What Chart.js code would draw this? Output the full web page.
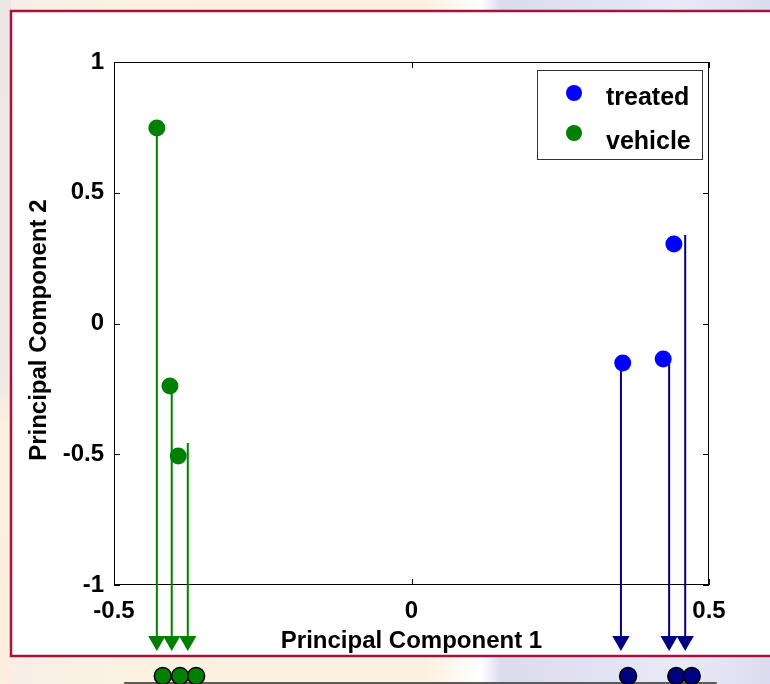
<!DOCTYPE html>
<html>
<head>
<meta charset="utf-8">
<title>PCA</title>
<script src="https://cdn.jsdelivr.net/npm/chart.js@4.4.1/dist/chart.umd.min.js"></script>
<style>
  html, body { margin: 0; padding: 0; background: #fff; }
  #wrap { width: 770px; height: 684px; }
</style>
</head>
<body>
<div id="wrap"><canvas id="chart" width="770" height="684"></canvas></div>
<script>
"use strict";

const xTicks = [-0.5, 0, 0.5];
const yTicks = [-1, -0.5, 0, 0.5, 1];

const treatedX = [0.355, 0.423, 0.441];
const treatedY = [-0.151, -0.136, 0.304];
const vehicleX = [-0.428, -0.406, -0.392];
const vehicleY = [0.748, -0.239, -0.507];

// arrows going down from the points to the projection
const treatedArrowX = [0.352, 0.433, 0.460];
const treatedArrowTop = [-0.151, -0.136, 0.338];
const vehicleArrowX = [-0.428, -0.403, -0.376];
const vehicleArrowTop = [0.748, -0.239, -0.457];
const arrowTipY = -1.214;

// 1-D projection under the box
const treatedProjX = [0.364, 0.445, 0.471];
const vehicleProjX = [-0.418, -0.389, -0.362];
const projY = -1.348;
const projLineX = [-0.483, 0.513];
const projLineY = -1.375;

const FONT = '"Liberation Sans", Arial, sans-serif';

function punti(xs, ys) {
	return xs.map((x, i) => ({ x: x, y: ys[i] }));
}

function frecce(xs, tops) {
	let out = [];
	for (let i = 0; i < xs.length; i++) {
		out.push({ x: xs[i], y: tops[i] });
		out.push({ x: xs[i], y: arrowTipY, tip: true });
		out.push({ x: xs[i], y: null });
	}
	return out;
}

const sfondo = {
	id: 'sfondo',
	beforeDraw(chart) {
		const ctx = chart.ctx, w = chart.width, h = chart.height;
		ctx.save();
		let g = ctx.createLinearGradient(0, 0, w, 0);
		g.addColorStop(0, '#f6eee8');
		g.addColorStop(0.15, '#fcf2e2');
		g.addColorStop(0.55, '#fcf0e0');
		g.addColorStop(0.6, '#fffaf4');
		g.addColorStop(0.625, '#ffffff');
		g.addColorStop(0.65, '#dcdcf0');
		g.addColorStop(0.8, '#e2e3f3');
		g.addColorStop(0.88, '#eaeaf6');
		g.addColorStop(1, '#dcdcf0');
		ctx.fillStyle = g;
		ctx.fillRect(0, 0, w, h);
		let gv = ctx.createLinearGradient(0, 0, 0, h);
		gv.addColorStop(0, '#ece6e6');
		gv.addColorStop(0.55, '#efe8e4');
		gv.addColorStop(0.62, '#fdf0e0');
		gv.addColorStop(1, '#fdeedd');
		ctx.fillStyle = gv;
		ctx.fillRect(0, 0, 11, h);
		ctx.fillStyle = '#fff';
		ctx.fillRect(11, 11, w, 645);
		ctx.strokeStyle = '#a8123a';
		ctx.lineWidth = 2.5;
		ctx.beginPath();
		ctx.moveTo(w + 5, 11);
		ctx.lineTo(11, 11);
		ctx.lineTo(11, 656);
		ctx.lineTo(w + 5, 656);
		ctx.stroke();
		ctx.restore();
	},
	beforeDatasetsDraw(chart) {
		const ctx = chart.ctx, a = chart.chartArea;
		const sx = chart.scales.x, sy = chart.scales.y;
		ctx.save();
		ctx.strokeStyle = '#000';
		ctx.lineWidth = 1;
		ctx.strokeRect(a.left + 0.5, a.top + 0.5, a.right - a.left - 1, a.bottom - a.top - 1);
		ctx.beginPath();
		for (const v of xTicks) {
			const px = Math.round(sx.getPixelForValue(v)) + 0.5;
			ctx.moveTo(px, a.bottom); ctx.lineTo(px, a.bottom - 6);
			ctx.moveTo(px, a.top); ctx.lineTo(px, a.top + 6);
		}
		for (const v of yTicks) {
			const py = Math.round(sy.getPixelForValue(v)) + 0.5;
			ctx.moveTo(a.left, py); ctx.lineTo(a.left + 6, py);
			ctx.moveTo(a.right, py); ctx.lineTo(a.right - 6, py);
		}
		ctx.stroke();
		ctx.restore();
	},
	afterDatasetsDraw(chart) {
		// the library skips points outside chartArea: draw arrowheads and projection dots here
		const ctx = chart.ctx;
		const tutto = { left: 0, top: 0, right: chart.width, bottom: chart.height };
		for (let i = 2; i <= 5; i++) {
			const meta = chart.getDatasetMeta(i);
			for (const el of meta.data) {
				if (!el.skip) el.draw(ctx, tutto);
			}
		}
	},
	afterDraw(chart) {
		// legend box inside the axes, MATLAB style
		const ctx = chart.ctx, a = chart.chartArea;
		const bx = a.right - 172, by = a.top + 8, bw = 165, bh = 89;
		ctx.save();
		ctx.fillStyle = '#fff';
		ctx.fillRect(bx, by, bw, bh);
		ctx.strokeStyle = '#333';
		ctx.lineWidth = 1;
		ctx.strokeRect(bx + 0.5, by + 0.5, bw, bh);
		ctx.font = 'bold 25px ' + FONT;
		ctx.textBaseline = 'middle';
		ctx.textAlign = 'left';
		for (let i = 0; i < 2; i++) {
			const ds = chart.data.datasets[i];
			ctx.fillStyle = ds.backgroundColor;
			ctx.beginPath();
			ctx.arc(bx + 37, by + 23 + i * 40, 8, 0, Math.PI * 2);
			ctx.fill();
			ctx.fillStyle = '#000';
			ctx.fillText(ds.label, bx + 69, by + 28 + i * 44);
		}
		ctx.restore();
	}
};

const tickFont = { family: FONT, size: 24, weight: 'bold' };

new Chart(document.getElementById('chart'), {
	type: 'scatter',
	data: {
		datasets: [
			{
				label: 'treated',
				data: punti(treatedX, treatedY),
				backgroundColor: '#0000ff',
				pointRadius: 8.5,
				pointBorderWidth: 0,
				order: 0
			},
			{
				label: 'vehicle',
				data: punti(vehicleX, vehicleY),
				backgroundColor: '#008000',
				pointRadius: 8.5,
				pointBorderWidth: 0,
				order: 0
			},
			{
				label: 'vehicle arrows',
				data: frecce(vehicleArrowX, vehicleArrowTop),
				showLine: true,
				spanGaps: false,
				borderColor: '#008000',
				borderWidth: 2,
				backgroundColor: '#008000',
				pointStyle: 'triangle',
				pointRotation: 180,
				pointBorderWidth: 0,
				pointRadius: c => (c.raw && c.raw.tip ? 10 : 0),
				clip: false,
				order: 1
			},
			{
				label: 'treated arrows',
				data: frecce(treatedArrowX, treatedArrowTop),
				showLine: true,
				spanGaps: false,
				borderColor: '#000080',
				borderWidth: 2,
				backgroundColor: '#000080',
				pointStyle: 'triangle',
				pointRotation: 180,
				pointBorderWidth: 0,
				pointRadius: c => (c.raw && c.raw.tip ? 10 : 0),
				clip: false,
				order: 1
			},
			{
				label: 'vehicle proj',
				data: vehicleProjX.map(x => ({ x: x, y: projY })),
				backgroundColor: '#008000',
				borderColor: '#000',
				pointBorderWidth: 1.5,
				pointRadius: 8.5,
				clip: false,
				order: 2
			},
			{
				label: 'treated proj',
				data: treatedProjX.map(x => ({ x: x, y: projY })),
				backgroundColor: '#000080',
				borderColor: '#000',
				pointBorderWidth: 1.5,
				pointRadius: 8.5,
				clip: false,
				order: 2
			},
			{
				label: 'proj line',
				data: projLineX.map(x => ({ x: x, y: projLineY })),
				showLine: true,
				borderColor: '#5a5a5a',
				borderWidth: 2,
				pointRadius: 0,
				clip: false,
				order: 3
			}
		]
	},
	options: {
		responsive: false,
		animation: false,
		events: [],
		layout: { padding: { top: 62, right: 61, left: 0, bottom: 0 } },
		plugins: {
			legend: { display: false },
			tooltip: { enabled: false }
		},
		scales: {
			x: {
				type: 'linear',
				min: -0.5,
				max: 0.5,
				afterBuildTicks: s => { s.ticks = xTicks.map(v => ({ value: v })); },
				afterFit: s => { s.height = 99; },
				grid: { display: false, drawTicks: false },
				border: { display: false },
				ticks: {
					color: '#000', font: tickFont, padding: 11.6, maxRotation: 0, autoSkip: false,
					callback: v => String(v)
				},
				title: {
					display: true,
					text: 'Principal Component 1',
					color: '#000',
					font: tickFont,
					padding: { top: 0, bottom: 28.6 }
				}
			},
			y: {
				type: 'linear',
				min: -1,
				max: 1,
				afterBuildTicks: s => { s.ticks = yTicks.map(v => ({ value: v })); },
				afterFit: s => { s.width = 114; },
				grid: { display: false, drawTicks: false },
				border: { display: false },
				ticks: {
					color: '#000', font: tickFont, padding: 10, autoSkip: false,
					callback: v => String(v)
				},
				title: {
					display: true,
					text: 'Principal Component 2  ',
					color: '#000',
					font: tickFont,
					padding: { top: 24.6, bottom: 0 }
				}
			}
		}
	},
	plugins: [sfondo]
});
</script>
</body>
</html>
